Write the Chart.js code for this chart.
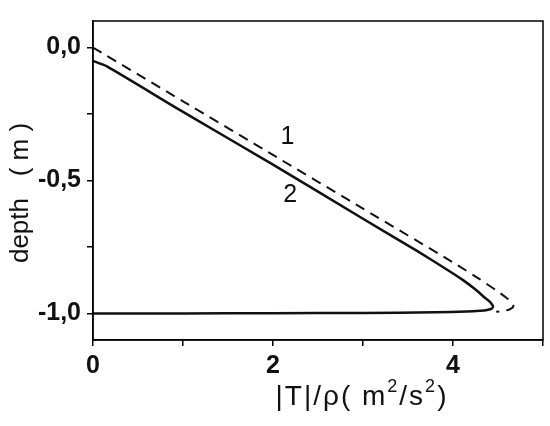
<!DOCTYPE html>
<html>
<head>
<meta charset="utf-8">
<script src="https://cdn.jsdelivr.net/npm/chart.js@4"></script>
<style>
  html, body { margin: 0; padding: 0; background: #fff; }
</style>
</head>
<body>
<canvas id="chart" width="550" height="426"></canvas>
<script>
// curve 1 (dashed)
const curve1X = [0, 1, 2, 3, 4, 4.3, 4.5, 4.6, 4.65, 4.67, 4.66, 4.62, 4.56, 4.48];
const curve1Y = [0, -0.202, -0.404, -0.606, -0.808, -0.872, -0.918, -0.943, -0.958, -0.97, -0.979, -0.986, -0.991, -0.994];
// curve 2 (solid)
const curve2X = [0, 0.15, 1, 2, 3, 3.6, 3.9, 4.1, 4.25, 4.35, 4.42, 4.445, 4.43, 4.38, 4.3, 4.15, 3.8, 3, 2, 1, 0];
const curve2Y = [-0.05, -0.07, -0.242, -0.44, -0.644, -0.765, -0.828, -0.872, -0.91, -0.94, -0.96, -0.974, -0.982, -0.987, -0.99, -0.993, -0.996, -0.998, -0.999, -1.0, -1.0];

const xTicks = [0, 1, 2, 3, 4, 5];
const xTickLabels = ['0', '', '2', '', '4', ''];
const yTicks = [-1.0, -0.75, -0.5, -0.25, 0.0];
const yTickLabels = ['-1,0', '', '-0,5', '', '0,0'];

const curveLabels = ['1', '2'];
// x title pieces: [text, superscript?]
const xTitleParts = [['|T|/\u03C1( m', false], ['2', true], ['/s', false], ['2', true], [')', false]];
const yTitle = 'depth   ( m )';

const FONT = '"Liberation Sans", Arial, sans-serif';

const toPoints = (xs, ys) => xs.map((v, i) => ({ x: v, y: ys[i] }));

const frameAndText = {
  id: 'frameAndText',
  afterDraw(chart) {
    const { ctx, chartArea: a, scales: { x, y } } = chart;
    ctx.save();
    ctx.strokeStyle = '#000';
    ctx.lineWidth = 1.5;
    ctx.strokeRect(a.left, a.top, a.right - a.left, a.bottom - a.top);

    ctx.fillStyle = '#111';
    ctx.font = '25px ' + FONT;
    ctx.textAlign = 'center';
    ctx.textBaseline = 'middle';
    // label positions in data units
    const lx = [2.16, 2.19];
    const ly = [-0.335, -0.555];
    curveLabels.forEach((t, i) => {
      ctx.fillText(t, x.getPixelForValue(lx[i]), y.getPixelForValue(ly[i]));
    });

    // x title with superscripts
    ctx.textAlign = 'left';
    ctx.textBaseline = 'alphabetic';
    ctx.letterSpacing = '2px';
    const mainFont = '28px ' + FONT;
    const supFont = '18px ' + FONT;
    let total = 0;
    xTitleParts.forEach(([t, sup]) => {
      ctx.font = sup ? supFont : mainFont;
      total += ctx.measureText(t).width;
    });
    let cx = 362 - total / 2;
    xTitleParts.forEach(([t, sup]) => {
      ctx.font = sup ? supFont : mainFont;
      ctx.fillText(t, cx, sup ? 392 : 405);
      cx += ctx.measureText(t).width;
    });
    ctx.letterSpacing = '0px';

    ctx.font = '26px ' + FONT;
    ctx.textAlign = 'center';
    ctx.translate(28, 193);
    ctx.rotate(-Math.PI / 2);
    ctx.fillText(yTitle, 0, 0);
    ctx.restore();
  }
};

new Chart(document.getElementById('chart'), {
  type: 'scatter',
  data: {
    datasets: [
      {
        label: '1',
        data: toPoints(curve1X, curve1Y),
        showLine: true,
        borderColor: '#111',
        borderWidth: 2,
        borderDash: [10, 7],
        pointRadius: 0,
        tension: 0.2,
        fill: false
      },
      {
        label: '2',
        data: toPoints(curve2X, curve2Y),
        showLine: true,
        borderColor: '#111',
        borderWidth: 2.5,
        pointRadius: 0,
        tension: 0.2,
        fill: false
      }
    ]
  },
  options: {
    responsive: false,
    animation: false,
    layout: { padding: { left: 0, right: 7, top: 6, bottom: 0 } },
    plugins: {
      legend: { display: false },
      tooltip: { enabled: false }
    },
    scales: {
      x: {
        min: 0,
        max: 5,
        afterBuildTicks: (s) => { s.ticks = xTicks.map(v => ({ value: v })); },
        afterFit: (s) => { s.height = 86; },
        grid: { drawOnChartArea: false, drawTicks: true, tickLength: 6, color: '#000', lineWidth: 1.5 },
        border: { color: '#000', width: 1.5 },
        ticks: {
          autoSkip: false,
          maxRotation: 0,
          padding: 5,
          color: '#111',
          font: { family: FONT, size: 25, weight: 'bold' },
          callback: (v, i) => xTickLabels[i]
        }
      },
      y: {
        min: -1.1,
        max: 0.1,
        afterBuildTicks: (s) => { s.ticks = yTicks.map(v => ({ value: v })); },
        afterFit: (s) => { s.width = 93; },
        grid: { drawOnChartArea: false, drawTicks: true, tickLength: 6, color: '#000', lineWidth: 1.5 },
        border: { color: '#000', width: 1.5 },
        ticks: {
          autoSkip: false,
          padding: 6,
          color: '#111',
          font: { family: FONT, size: 25, weight: 'bold' },
          callback: (v, i) => yTickLabels[i]
        }
      }
    }
  },
  plugins: [frameAndText]
});
</script>
</body>
</html>
